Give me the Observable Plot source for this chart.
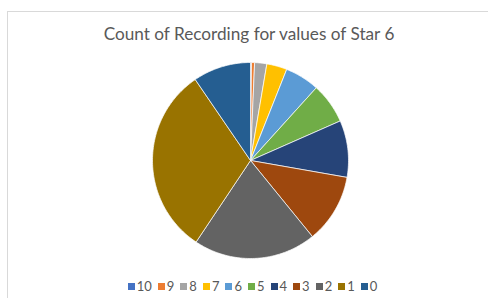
<!DOCTYPE html>
<html><head><meta charset="utf-8">
<script src="https://cdn.jsdelivr.net/npm/d3@7"></script>
<script src="https://cdn.jsdelivr.net/npm/@observablehq/plot@0.6"></script>
<style>
body{margin:0;background:#fff;}
#wrap{position:relative;width:488px;height:298px;overflow:hidden;font-family:Lato,"Open Sans",sans-serif;}
#frame{position:absolute;left:7px;top:11px;width:600px;height:400px;border-left:1px solid #d9d9d9;border-top:1px solid #d9d9d9;}
#title{position:absolute;left:0;width:498px;top:23px;text-align:center;font-size:17.2px;color:#595959;}
#chart{position:absolute;left:0;top:0;}
#legend{position:absolute;left:0;width:505px;top:278px;display:flex;justify-content:center;gap:6px;font-size:13px;color:#595959;}
#legend span{display:flex;align-items:center;gap:2px;}
#legend i{display:inline-block;width:7px;height:7px;}
</style></head>
<body><div id="wrap"><div id="frame"></div><div id="title">Count of Recording for values of Star 6</div><div id="chart"></div><div id="legend"></div></div>
<script>
const categories = ["10","9","8","7","6","5","4","3","2","1","0"];
const counts = [1,3,12,20,34,40,56,68,121,186,57];
const colors = ["#4472C4","#ED7D31","#A5A5A5","#FFC000","#5B9BD5","#70AD47","#264478","#9E480E","#636363","#997300","#255E91"];

const data = categories.map((c,i)=>({cat:c,count:counts[i]}));
const arcs = d3.pie().sort(null).value(d=>d.count)(data);
const pts = [];
arcs.forEach(a=>{
  const cat = a.data.cat;
  pts.push({cat,x:0,y:0});
  const n = Math.max(2, Math.ceil((a.endAngle-a.startAngle)/(Math.PI/180)));
  for(let k=0;k<=n;k++){
    const t = a.startAngle + (a.endAngle-a.startAngle)*k/n;
    pts.push({cat,x:Math.sin(t),y:Math.cos(t)});
  }
  pts.push({cat,x:0,y:0});
});

const plot = Plot.plot({
  width:488,height:298,
  x:{domain:[-1,1],range:[152,348],axis:null},
  y:{domain:[-1,1],range:[258,62],axis:null},
  color:{domain:categories,range:colors},
  marks:[
    Plot.line(pts,{x:"x",y:"y",z:"cat",fill:"cat",stroke:"#ffffff",strokeWidth:0.7,curve:"linear-closed"})
  ]
});
document.getElementById("chart").appendChild(plot);

const lg = document.getElementById("legend");
categories.forEach((c,i)=>{
  const s=document.createElement("span");
  s.innerHTML=`<i style="background:${colors[i]}"></i>${c}`;
  lg.appendChild(s);
});
</script></body></html>
